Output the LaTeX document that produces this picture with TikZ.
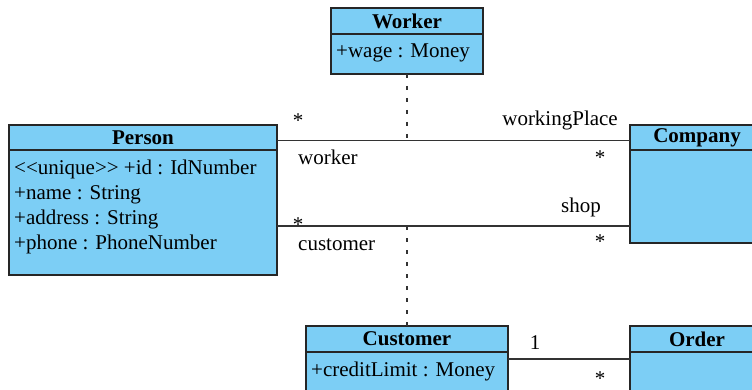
\documentclass[tikz,border=0pt]{standalone}
\usepackage{fontspec}
\setmainfont{Liberation Serif}
\usetikzlibrary{positioning}

\definecolor{classblue}{RGB}{124,206,245}
\newcommand\umlsize{\fontsize{21}{25}\selectfont}

\tikzset{
    classhead/.style={draw=black!85, fill=classblue, line width=1.2pt, outer sep=0pt, inner sep=0pt, font=\umlsize\bfseries},
    classbody/.style={draw=black!85, fill=classblue, line width=1.2pt, outer sep=0pt, inner sep=0pt},
    attrs/.style={anchor=north west, align=left, inner sep=0pt, font=\umlsize},
    assoc/.style={line width=1.1pt, black!80},
    assocclass/.style={assoc, dash pattern=on 4pt off 8pt},
    lbl/.style={inner sep=0pt, font=\umlsize}
}

\begin{document}
\begin{tikzpicture}[x=1pt, y=-1pt]
        \path[use as bounding box, clip] (0,0) rectangle (752,390);

        % Classes: header with the name, body below it
        \node[classhead, minimum width=152, minimum height=26] (workerhead) at (407,21) {Worker};
        \node[classbody, minimum width=152, minimum height=40, below=0pt of workerhead] (workerbody) {};
        \node[attrs] (workerattrs) at ([shift={(5pt,-10pt)}]workerbody.north west) {+wage : Money};

        \node[classhead, minimum width=268, minimum height=25] (personhead) at (143,137.5) {Person};
        \node[classbody, minimum width=268, minimum height=125, below=0pt of personhead] (personbody) {};
        \node[attrs] (personattrs) at ([shift={(5pt,-10pt)}]personbody.north west)
            {<{}<unique>{}> +id : IdNumber\\+name : String\\+address : String\\+phone : PhoneNumber};

        \node[classhead, minimum width=134, minimum height=25] (companyhead) at (697,137.5) {Company};
        \node[classbody, minimum width=134, minimum height=93, below=0pt of companyhead] (companybody) {};

        \node[classhead, minimum width=202, minimum height=26] (customerhead) at (407,339) {Customer};
        \node[classbody, minimum width=202, minimum height=60, below=0pt of customerhead] (customerbody) {};
        \node[attrs] (customerattrs) at ([shift={(5pt,-10pt)}]customerbody.north west) {+creditLimit : Money};

        \node[classhead, minimum width=134, minimum height=26] (orderhead) at (697,339) {Order};
        \node[classbody, minimum width=134, minimum height=60, below=0pt of orderhead] (orderbody) {};

        % Associations
        \draw[assoc] ([yshift=-3pt]personhead.east) coordinate (worklink) -- ([yshift=-3pt]companyhead.west);
        \draw[assoc] ([yshift=-76pt]personbody.north east) coordinate (shoplink) -- ([yshift=-76pt]companybody.north west);
        \draw[assoc] ([yshift=-7pt]customerbody.north east) -- ([yshift=-7pt]orderbody.north west);

        % Association classes
        \draw[assocclass] (workerbody.south) -- (workerbody.south |- worklink);
        \draw[assocclass] (shoplink -| customerhead.north) -- (customerhead.north);

        % Roles and multiplicities
        \node[lbl, anchor=base] at (298,128) {*};
        \node[lbl, anchor=base west] at (298,165) {worker};
        \node[lbl, anchor=base east] at (618,126) {workingPlace};
        \node[lbl, anchor=base] at (600,165) {*};
        \node[lbl, anchor=base] at (298,232) {*};
        \node[lbl, anchor=base west] at (298,250) {customer};
        \node[lbl, anchor=base east] at (601,213) {shop};
        \node[lbl, anchor=base] at (600,248) {*};
        \node[lbl, anchor=base] at (535,349) {1};
        \node[lbl, anchor=base] at (600,385) {*};
    \end{tikzpicture}
\end{document}
